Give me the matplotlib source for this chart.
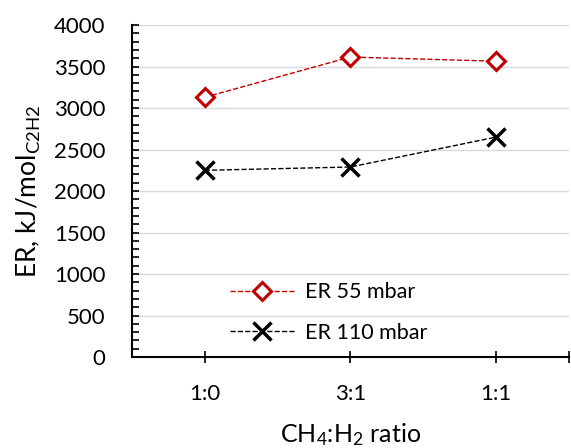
import matplotlib.pyplot as plt
from matplotlib.ticker import MultipleLocator

plt.rcParams['font.family'] = ['Lato', 'DejaVu Sans']
plt.rcParams['mathtext.fontset'] = 'custom'
plt.rcParams['mathtext.rm'] = 'Lato'
plt.rcParams['mathtext.it'] = 'Lato'

categories = ['1:0', '3:1', '1:1']
er_55 = [3130, 3615, 3565]
er_110 = [2250, 2290, 2650]

fig = plt.figure(figsize=(5.71, 4.48), dpi=100)
ax = fig.add_axes([0.231, 0.203, 0.765, 0.741])

x = range(len(categories))
ax.plot(x, er_55, '--', color='#c00000', lw=1, marker='D', ms=9,
        mfc='white', mec='#c00000', mew=2.2, label='ER 55 mbar', zorder=3)
ax.plot(x, er_110, '--', color='black', lw=1, marker='x', ms=13,
        mew=2.5, label='ER 110 mbar', zorder=3)

ax.set_xlim(-0.5, 2.5)
ax.set_ylim(0, 4000)
ax.set_xticks([0, 1, 2, 2.5])
ax.set_xticklabels(categories + [''])
ax.yaxis.set_major_locator(MultipleLocator(500))
ax.yaxis.set_minor_locator(MultipleLocator(100))
ax.tick_params(axis='y', which='both', direction='in', length=5, width=1.2,
               labelsize=16, pad=19)
ax.tick_params(axis='x', direction='inout', length=9, width=1.2,
               labelsize=16, pad=15)
ax.grid(axis='y', color='#d9d9d9', lw=1)
ax.set_axisbelow(True)
for s in ['top', 'right']:
    ax.spines[s].set_visible(False)
for s in ['left', 'bottom']:
    ax.spines[s].set_linewidth(1.5)

ax.set_ylabel(r'ER, kJ/mol$_{\mathrm{C2H2}}$', fontsize=19, labelpad=8)
ax.set_xlabel(r'CH$_4$:H$_2$ ratio', fontsize=18, labelpad=12)

ax.legend(loc='lower left', bbox_to_anchor=(0.18, -0.015), frameon=False,
          fontsize=15.5, handlelength=3.0, labelspacing=0.95, handletextpad=0.5)

fig.savefig('out.png', dpi=100)
